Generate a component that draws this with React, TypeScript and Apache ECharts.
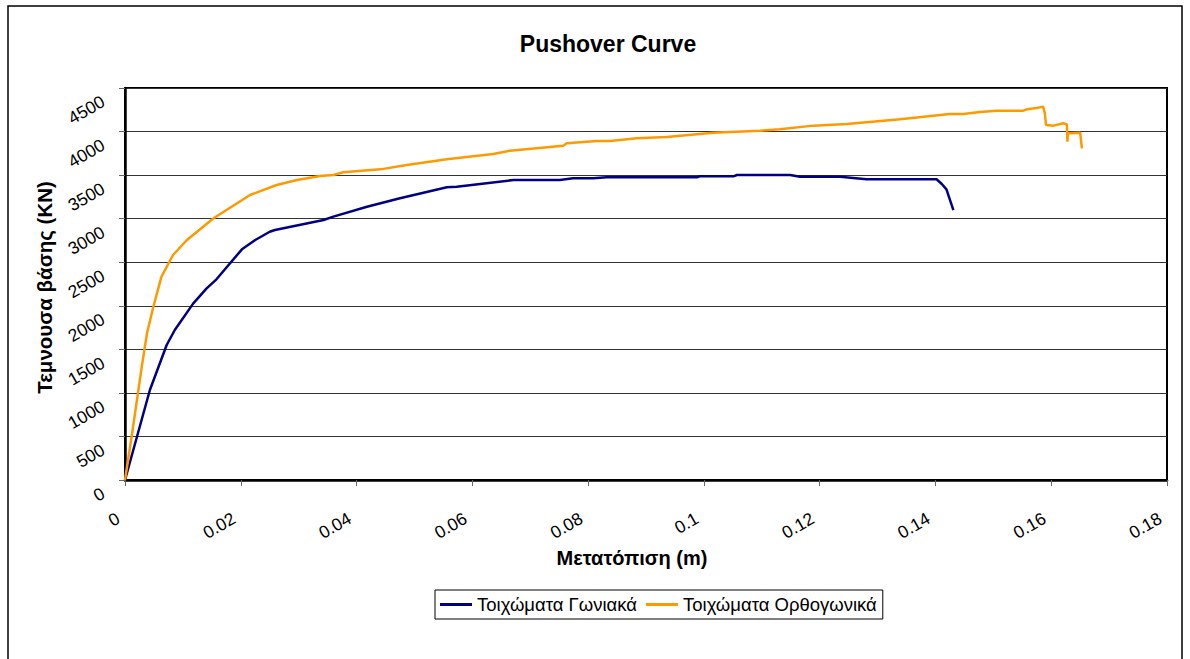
import React, { useEffect, useRef } from "react";
import * as echarts from "echarts";

const seriesNames = ["Τοιχώματα Γωνιακά", "Τοιχώματα Ορθογωνικά"];

const cornerX = [0, 0.0043, 0.0072, 0.0086, 0.0118, 0.0141, 0.0158, 0.0202, 0.0225, 0.025, 0.0259, 0.0343, 0.036, 0.0418, 0.0475, 0.0556, 0.0573, 0.0671, 0.0751, 0.0774, 0.0809, 0.0832, 0.0988, 0.0993, 0.1051, 0.1057, 0.1149, 0.1166, 0.1235, 0.1281, 0.1402, 0.1411, 0.1419, 0.1431];
const cornerY = [0, 1033, 1550, 1722, 2028, 2200, 2304, 2648, 2755, 2850, 2870, 2985, 3023, 3137, 3234, 3360, 3367, 3444, 3444, 3463, 3463, 3475, 3475, 3486, 3486, 3501, 3501, 3482, 3482, 3452, 3452, 3398, 3337, 3099];

const rectX = [0, 0.0014, 0.0029, 0.0038, 0.0049, 0.0063, 0.0083, 0.0107, 0.0153, 0.0216, 0.0262, 0.0297, 0.0337, 0.036, 0.0377, 0.0441, 0.0487, 0.0556, 0.0636, 0.0665, 0.0757, 0.0763, 0.0815, 0.0838, 0.0884, 0.0936, 0.1016, 0.1097, 0.1131, 0.1189, 0.1247, 0.1339, 0.1425, 0.1448, 0.1477, 0.1506, 0.1552, 0.1558, 0.1575, 0.1586, 0.1589, 0.1591, 0.1604, 0.1621, 0.1627, 0.1628, 0.1629, 0.165, 0.1653];
const rectY = [0, 612, 1301, 1684, 1989, 2334, 2583, 2755, 3004, 3272, 3386, 3444, 3490, 3501, 3532, 3566, 3616, 3681, 3742, 3780, 3838, 3865, 3891, 3891, 3922, 3937, 3987, 4010, 4026, 4068, 4087, 4141, 4202, 4202, 4225, 4240, 4240, 4255, 4270, 4286, 4209, 4075, 4068, 4095, 4083, 3884, 3980, 3987, 3808];

const xMin = 0, xMax = 0.18, xStep = 0.02;
const yMin = 0, yMax = 4500, yStep = 500;

const FONT = "'Liberation Sans', Arial, sans-serif";

export default function App() {
  const ref = useRef<HTMLDivElement>(null);
  useEffect(() => {
    if (!ref.current) return;
    const chart = echarts.init(ref.current, null, { renderer: "svg" });
    const pairs = (xs: number[], ys: number[]) => xs.map((x, i) => [x, ys[i]]);
    chart.setOption({
      animation: false,
      backgroundColor: "#fff",
      textStyle: { fontFamily: FONT },
      title: {
        text: "Pushover Curve",
        left: 603,
        textAlign: "center",
        top: 27,
        textStyle: { fontFamily: FONT, fontSize: 23, fontWeight: "bold", color: "#000" },
      },
      graphic: [
        {
          type: "rect",
          shape: { x: 8, y: 6, width: 1174, height: 670 },
          style: { fill: "none", stroke: "#000", lineWidth: 1.5 },
          silent: true,
          z: -1,
        },
      ],
      legend: {
        left: 435,
        top: 590,
        itemWidth: 32,
        itemHeight: 3,
        itemGap: 9,
        padding: [5, 6, 5, 5],
        borderColor: "#000",
        borderWidth: 1,
        icon: "rect",
        textStyle: { fontFamily: FONT, fontSize: 18.5, color: "#000" },
        data: seriesNames,
      },
      grid: {
        left: 125,
        right: 23,
        top: 88,
        bottom: 179,
        show: true,
        borderColor: "#000",
        borderWidth: 2,
        backgroundColor: "transparent",
      },
      xAxis: {
        type: "value",
        min: xMin,
        max: xMax,
        interval: xStep,
        name: "Μετατόπιση (m)",
        nameLocation: "middle",
        nameGap: 64,
        nameTextStyle: { fontFamily: FONT, fontSize: 20, fontWeight: "bold", color: "#000", padding: [0, 28, 0, 0] },
        axisLine: { show: true, onZero: false, lineStyle: { color: "#000", width: 2.5 } },
        axisTick: { show: true, length: 6, lineStyle: { color: "#666" } },
        splitLine: { show: false },
        axisLabel: {
          rotate: 30,
          margin: 33,
          align: "right",
          verticalAlign: "middle",
          padding: [0, 8, 0, 0],
          fontSize: 17.5,
          color: "#000",
          fontFamily: FONT,
          formatter: (v: number) => String(parseFloat(v.toFixed(2))),
        },
      },
      yAxis: {
        type: "value",
        min: yMin,
        max: yMax,
        interval: yStep,
        name: "Τεμνουσα βάσης (KN)",
        nameLocation: "middle",
        nameGap: 67,
        nameRotate: 90,
        nameTextStyle: { fontFamily: FONT, fontSize: 20.5, fontWeight: "bold", color: "#000", padding: [0, 7, 0, 0] },
        axisLine: { show: true, lineStyle: { color: "#000", width: 2.5 } },
        axisTick: { show: true, length: 6, lineStyle: { color: "#666" } },
        splitLine: { show: true, lineStyle: { color: "#333", width: 1 } },
        axisLabel: {
          rotate: 30,
          margin: 1,
          align: "right",
          verticalAlign: "middle",
          padding: [0, 24, 0, 0],
          fontSize: 17.5,
          color: "#000",
          fontFamily: FONT,
          formatter: (v: number) => String(v),
        },
      },
      series: [
        {
          name: seriesNames[0],
          type: "line",
          data: pairs(cornerX, cornerY),
          showSymbol: false,
          symbol: "none",
          lineStyle: { color: "#000080", width: 2.5 },
          itemStyle: { color: "#000080" },
        },
        {
          name: seriesNames[1],
          type: "line",
          data: pairs(rectX, rectY),
          showSymbol: false,
          symbol: "none",
          lineStyle: { color: "#FF9900", width: 2.5 },
          itemStyle: { color: "#FF9900" },
        },
      ],
    });
    return () => chart.dispose();
  }, []);
  return (
    <div
      ref={ref}
      style={{ position: "absolute", left: 0, top: 0, width: 1190, height: 659 }}
    />
  );
}
